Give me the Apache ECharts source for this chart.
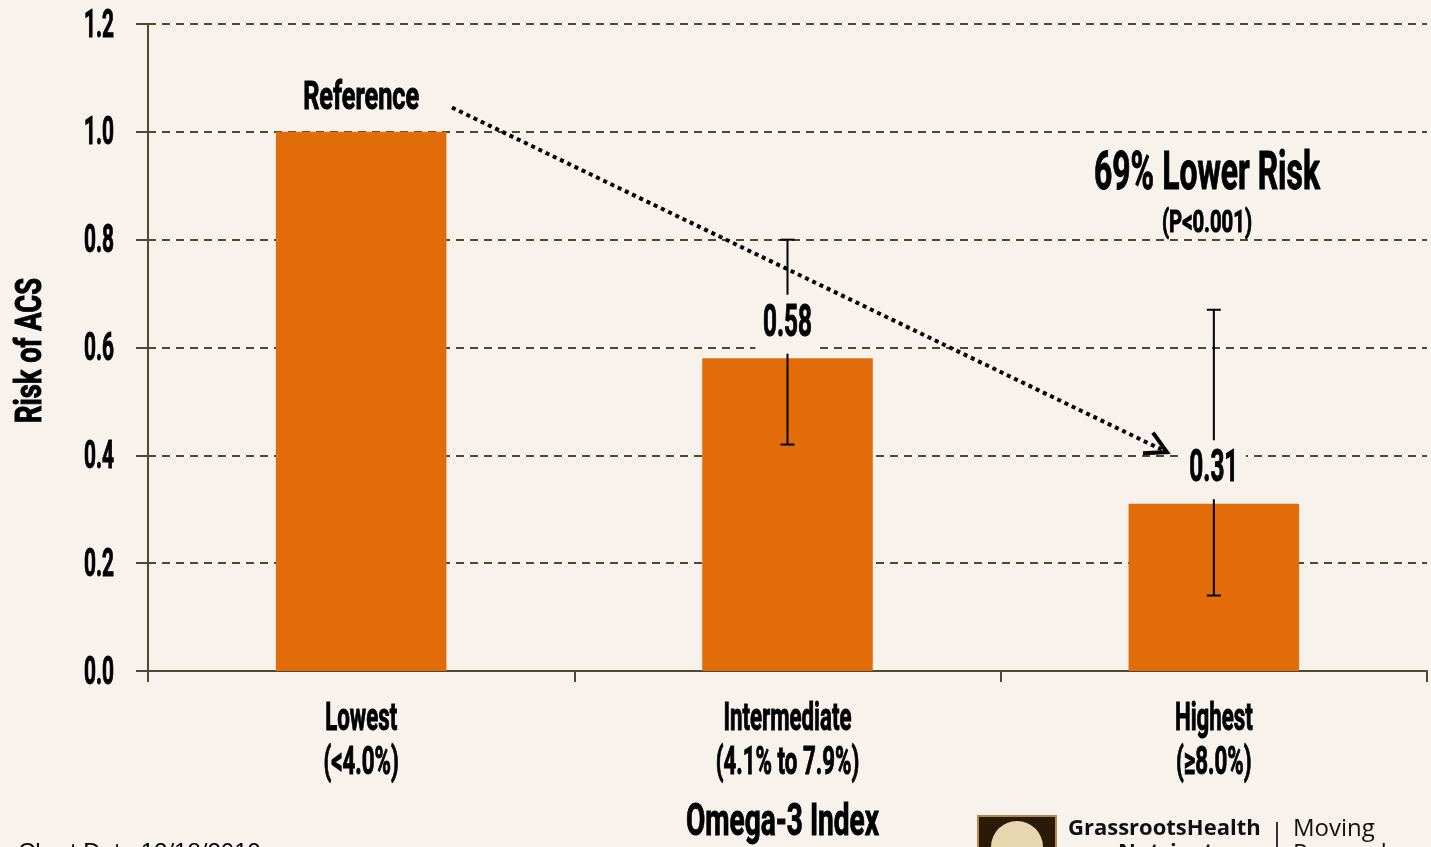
<!DOCTYPE html>
<html>
<head>
<meta charset="utf-8">
<script src="https://cdn.jsdelivr.net/npm/echarts@6/dist/echarts.min.js"></script>
<style>
html,body{margin:0;padding:0;background:#f7f3ec;}
#chart{width:1431px;height:847px;}
</style>
</head>
<body>
<div id="chart"></div>
<script>
var categories = ['Lowest\n(<4.0%)', 'Intermediate\n(4.1% to 7.9%)', 'Highest\n(≥8.0%)'];
var riskValues = [1.0, 0.58, 0.31];
var barLabels = ['Reference', '0.58', '0.31'];
var errLow = [null, 0.42, 0.14];
var errHigh = [null, 0.80, 0.67];
var yTicks = [0, 0.2, 0.4, 0.6, 0.8, 1.0, 1.2];
var arrowStart = [0.213, 1.045];
var arrowEnd = [1.89, 0.406];

var FONT = 'Roboto, "Liberation Sans", sans-serif';
var BG = '#f7f3ec';
var AXIS = '#4d4830';
var ORANGE = '#e36c0a';

var chart = echarts.init(document.getElementById('chart'));

var errData = [];
for (var i = 0; i < categories.length; i++) {
  if (errLow[i] != null) errData.push({value: [i, errLow[i], errHigh[i]]});
}

var option = {
  backgroundColor: BG,
  animation: false,
  grid: {left: 148, right: 4, top: 24, bottom: 176, containLabel: false, outerBoundsMode: 'none'},
  xAxis: [{
    type: 'category',
    data: categories,
    axisLine: {onZero: false, lineStyle: {color: AXIS, width: 2}},
    axisTick: {show: true, length: 11, lineStyle: {color: AXIS, width: 2}},
    axisLabel: {show: false}
  }, {
    type: 'value', min: -0.5, max: 2.5, show: false,
    axisLine: {show: false, onZero: false}, splitLine: {show: false}, axisTick: {show: false}, axisLabel: {show: false}
  }],
  yAxis: {
    type: 'value', min: 0, max: 1.2, interval: 0.2,
    axisLine: {show: true, onZero: false, lineStyle: {color: AXIS, width: 2}},
    axisTick: {show: true, length: 12, lineStyle: {color: AXIS, width: 2}},
    splitLine: {show: true, lineStyle: {color: AXIS, width: 2, type: [8, 6]}},
    axisLabel: {show: false}
  },
  series: [{
    type: 'bar',
    data: riskValues,
    barWidth: '40%',
    itemStyle: {color: ORANGE},
    z: 2
  }, {
    type: 'custom',
    xAxisIndex: 1,
    data: errData,
    z: 5,
    renderItem: function (params, api) {
      var x = api.value(0);
      var l = api.value(1), h = api.value(2);
      if (isNaN(l) || isNaN(h)) return null;
      var lo = api.coord([x, l]);
      var hi = api.coord([x, h]);
      var cap = 7;
      return {
        type: 'group',
        children: [
          {type: 'line', shape: {x1: lo[0], y1: lo[1], x2: hi[0], y2: hi[1]}, style: {stroke: '#000', lineWidth: 2}},
          {type: 'line', shape: {x1: lo[0] - cap, y1: lo[1], x2: lo[0] + cap, y2: lo[1]}, style: {stroke: '#000', lineWidth: 2}},
          {type: 'line', shape: {x1: hi[0] - cap, y1: hi[1], x2: hi[0] + cap, y2: hi[1]}, style: {stroke: '#000', lineWidth: 2}}
        ]
      };
    }
  }]
};
chart.setOption(option);

// condensed text helpers (no condensed font installed: scale horizontally)
var ctx = document.createElement('canvas').getContext('2d');
function measure(text, font) { ctx.font = font; return ctx.measureText(text).width; }
function cText(text, x, y, size, scale, o) {
  o = o || {};
  var st = {
    text: text, fill: '#000', font: 'bold ' + size + 'px ' + FONT,
    textAlign: o.align || 'center', textVerticalAlign: 'middle',
    stroke: '#000', lineWidth: 1
  };
  if (o.bg) { st.backgroundColor = o.bg; st.padding = o.padding; st.lineHeight = size; }
  return {type: 'text', x: x, y: y, scaleX: scale, rotation: o.rotation || 0, z: 100, style: st};
}
function fitScale(sample, size, width) { return width / measure(sample, 'bold ' + size + 'px ' + FONT); }

function px(cat, v) { return chart.convertToPixel({xAxisIndex: 0, yAxisIndex: 0}, [cat, v]); }
function pxv(x, v) { return chart.convertToPixel({xAxisIndex: 1, yAxisIndex: 0}, [x, v]); }

var g = [];
// y tick labels
var yFs = 38, yScale = fitScale('0.8', yFs, 30);
var catW = px(1, 0)[0] - px(0, 0)[0];
var axisX = px(0, 0)[0] - catW / 2;
yTicks.forEach(function (t) {
  var p = px(0, t);
  g.push(cText(t.toFixed(1), axisX - 34, p[1] + 3, yFs, yScale, {align: 'right'}));
});
// x category labels
var xFs = 39, xScale = fitScale('Lowest', xFs, 72);
var baseY = px(0, 0)[1];
categories.forEach(function (c, i) {
  var p = px(i, 0);
  var lines = c.split('\n');
  g.push(cText(lines[0], p[0], baseY + 49, xFs, xScale));
  g.push(cText(lines[1], p[0], baseY + 93, xFs, xScale));
});
// bar value labels with background
var nFs = 45, nScale = fitScale('0.58', nFs, 49);
var rFs = 39, rScale = fitScale('Reference', rFs, 116);
riskValues.forEach(function (v, i) {
  var p = px(i, v);
  if (i === 0) {
    g.push(cText(barLabels[i], p[0], p[1] - 33, rFs, rScale));
  } else {
    g.push(cText(barLabels[i], p[0], p[1] - 34, nFs, nScale, {bg: BG, padding: [7, 14, 7, 14]}));
  }
});
// dotted arrow with open arrowhead
var a0 = pxv(arrowStart[0], arrowStart[1]);
var a1 = pxv(arrowEnd[0], arrowEnd[1]);
var ang = Math.atan2(a1[1] - a0[1], a1[0] - a0[0]);
var headLen = 24, headAng = 0.5;
g.push({type: 'line', z: 90, shape: {x1: a0[0], y1: a0[1], x2: a1[0] - 6 * Math.cos(ang), y2: a1[1] - 6 * Math.sin(ang)},
  style: {stroke: '#000', lineWidth: 4, lineDash: [4, 4]}});
g.push({type: 'polyline', z: 90, shape: {points: [
  [a1[0] - headLen * Math.cos(ang - headAng), a1[1] - headLen * Math.sin(ang - headAng)],
  [a1[0], a1[1]],
  [a1[0] - headLen * Math.cos(ang + headAng), a1[1] - headLen * Math.sin(ang + headAng)]
]}, style: {stroke: '#000', lineWidth: 4, fill: null, lineJoin: 'miter'}});
// axis names
var gridMidX = (axisX + px(2, 0)[0] + catW / 2) / 2;
g.push(cText('Omega-3 Index', gridMidX - 5, 824, 45, fitScale('Omega-3 Index', 45, 193)));
g.push(cText('Risk of ACS', 32, (px(0, 0)[1] + px(0, 1.2)[1]) / 2 + 3, 37, fitScale('Risk of ACS', 37, 145), {rotation: Math.PI / 2}));
// annotation
g.push(cText('69% Lower Risk', 1207, 176, 53, fitScale('69% Lower Risk', 53, 226)));
g.push(cText('(P<0.001)', 1207, 224, 31, fitScale('(P<0.001)', 31, 90)));
// footer
g.push({type: 'text', x: 18, y: 841, style: {text: 'Chart Date 12/18/2019', fill: '#000', font: '24px "Liberation Sans", Arial, sans-serif', textAlign: 'left', textVerticalAlign: 'top'}});
g.push({type: 'rect', shape: {x: 978, y: 816, width: 78, height: 40}, style: {fill: '#2a1a08', stroke: '#b08a4a', lineWidth: 2}});
g.push({type: 'circle', shape: {cx: 1017, cy: 847, r: 26}, style: {fill: '#e8d6b0'}});
g.push({type: 'text', x: 1068, y: 829, style: {text: 'GrassrootsHealth', fill: '#111', font: 'bold 22px "Open Sans", "DejaVu Sans", sans-serif', textAlign: 'left', textVerticalAlign: 'middle'}});
g.push({type: 'text', x: 1118, y: 853, style: {text: 'Nutrient', fill: '#111', font: 'bold 22px "Open Sans", "DejaVu Sans", sans-serif', textAlign: 'left', textVerticalAlign: 'middle'}});
g.push({type: 'rect', shape: {x: 1276, y: 822, width: 2, height: 30}, style: {fill: '#333'}});
g.push({type: 'text', x: 1293, y: 829, style: {text: 'Moving', fill: '#111', font: '24px "Open Sans", "DejaVu Sans", sans-serif', textAlign: 'left', textVerticalAlign: 'middle'}});
g.push({type: 'text', x: 1293, y: 854, style: {text: 'Research', fill: '#111', font: '24px "Open Sans", "DejaVu Sans", sans-serif', textAlign: 'left', textVerticalAlign: 'middle'}});

chart.setOption({graphic: g});
</script>
</body>
</html>
